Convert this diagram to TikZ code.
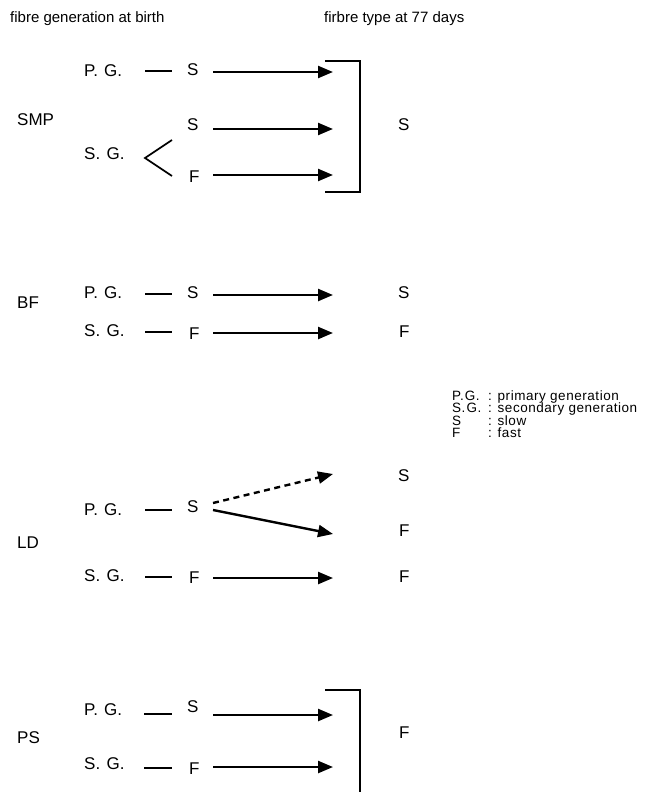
\documentclass[tikz,border=0pt]{standalone}
\usepackage{fontspec}
\setmainfont{Liberation Sans}
\usetikzlibrary{arrows.meta}
\newcommand{\PGlbl}{P.\hspace{0.36em}G.}
\newcommand{\SGlbl}{S.\hspace{0.38em}G.}
\begin{document}
\begin{tikzpicture}[x=1pt,y=-1pt,
  lbl/.style={inner sep=0pt, anchor=west, font=\fontsize{17}{17}\selectfont, text height=0.72em, text depth=0pt},
  head/.style={inner sep=0pt, anchor=base west, font=\fontsize{15}{15}\selectfont},
  key/.style={inner sep=0pt, anchor=base west, text height=0.72em, text depth=0.05em,
    font=\fontsize{13.5}{13.5}\selectfont\addfontfeature{LetterSpace=4}},
  conn/.style={line width=2.4pt, -{Triangle[length=15pt,width=12pt]}},
  tick/.style={line width=2pt},
  brk/.style={line width=2.2pt}]
\useasboundingbox (0,0) rectangle (649,792);

% column headings
\node[head] (h1) at (10,23) {fibre generation at birth};
\node[head] (h2) at (324,23) {firbre type at 77 days};

% ---------- SMP ----------
\node[lbl] (smp) at (17,122) {SMP};
\node[lbl] (smpP) at (84,73) {\PGlbl};
\node[lbl] (smpS1) at (187,72) {S};
\node[lbl] (smpG) at (84,156) {\SGlbl};
\node[lbl] (smpS2) at (187,127) {S};
\node[lbl] (smpF) at (189,179) {F};
\coordinate (smpA1) at (333,72);
\coordinate (smpA2) at (333,129);
\coordinate (smpA3) at (333,175);
\draw[tick] (145,71) -- (172,71);
\draw[line width=1.7pt] (172,140) -- (145,158) -- (172,176);
\draw[conn] (213,72) -- (smpA1);
\draw[conn] (213,129) -- (smpA2);
\draw[conn] (213,175) -- (smpA3);
\coordinate (b1a) at (325,61);
\coordinate (b1b) at (360,61);
\coordinate (b1c) at (360,192);
\coordinate (b1d) at (325,192);
\draw[brk] (b1a) -- (b1b) -- (b1c) -- (b1d);
\node[lbl] (smpR) at (398,127) {S};

% ---------- BF ----------
\node[lbl] (bf) at (17,305) {BF};
\node[lbl] (bfP) at (84,295) {\PGlbl};
\node[lbl] (bfS) at (187,295) {S};
\node[lbl] (bfG) at (84,333) {\SGlbl};
\node[lbl] (bfF) at (189,336) {F};
\coordinate (bfA1) at (333,295);
\coordinate (bfA2) at (333,333);
\draw[tick] (145,294) -- (172,294);
\draw[tick] (145,332) -- (172,332);
\draw[conn] (213,295) -- (bfA1);
\draw[conn] (213,333) -- (bfA2);
\node[lbl] (bfR1) at (398,295) {S};
\node[lbl] (bfR2) at (399,334) {F};

% ---------- legend ----------
\node[key] (k1) at (452,400) {P.\kern1pt G.};
\node[key] (k2) at (452,412.5) {S.\kern1pt G.};
\node[key] (k3) at (452,425) {S};
\node[key] (k4) at (452,437.5) {F};
\node[key] (v1) at (488,400) {: primary generation};
\node[key] (v2) at (488,412.5) {: secondary generation};
\node[key] (v3) at (488,425) {: slow};
\node[key] (v4) at (488,437.5) {: fast};

% ---------- LD ----------
\node[lbl] (ld) at (17,545) {LD};
\node[lbl] (ldP) at (84,512) {\PGlbl};
\node[lbl] (ldS) at (187,509) {S};
\node[lbl] (ldG) at (84,578) {\SGlbl};
\node[lbl] (ldF) at (189,580) {F};
\coordinate (ldA1) at (333,474);
\coordinate (ldA2) at (333,534);
\coordinate (ldA3) at (333,578);
\draw[tick] (145,510) -- (172,510);
\draw[tick] (145,577) -- (172,577);
\draw[conn, dash pattern=on 6pt off 4.5pt] (213,503) -- (ldA1);
\draw[conn] (213,510) -- (ldA2);
\draw[conn] (213,578) -- (ldA3);
\node[lbl] (ldR1) at (398,478) {S};
\node[lbl] (ldR2) at (399,533) {F};
\node[lbl] (ldR3) at (399,579) {F};

% ---------- PS ----------
\node[lbl] (ps) at (17,740) {PS};
\node[lbl] (psP) at (84,712) {\PGlbl};
\node[lbl] (psS) at (187,709) {S};
\node[lbl] (psG) at (84,766) {\SGlbl};
\node[lbl] (psF) at (189,771) {F};
\coordinate (psA1) at (333,715);
\coordinate (psA2) at (333,767);
\draw[tick] (144,714) -- (172,714);
\draw[tick] (144,768) -- (172,768);
\draw[conn] (213,715) -- (psA1);
\draw[conn] (213,767) -- (psA2);
\coordinate (b2a) at (325,690);
\coordinate (b2b) at (360,690);
\coordinate (b2c) at (360,792);
\draw[brk] (b2a) -- (b2b) -- (b2c);
\node[lbl] (psR) at (399,735) {F};
\end{tikzpicture}
\end{document}
